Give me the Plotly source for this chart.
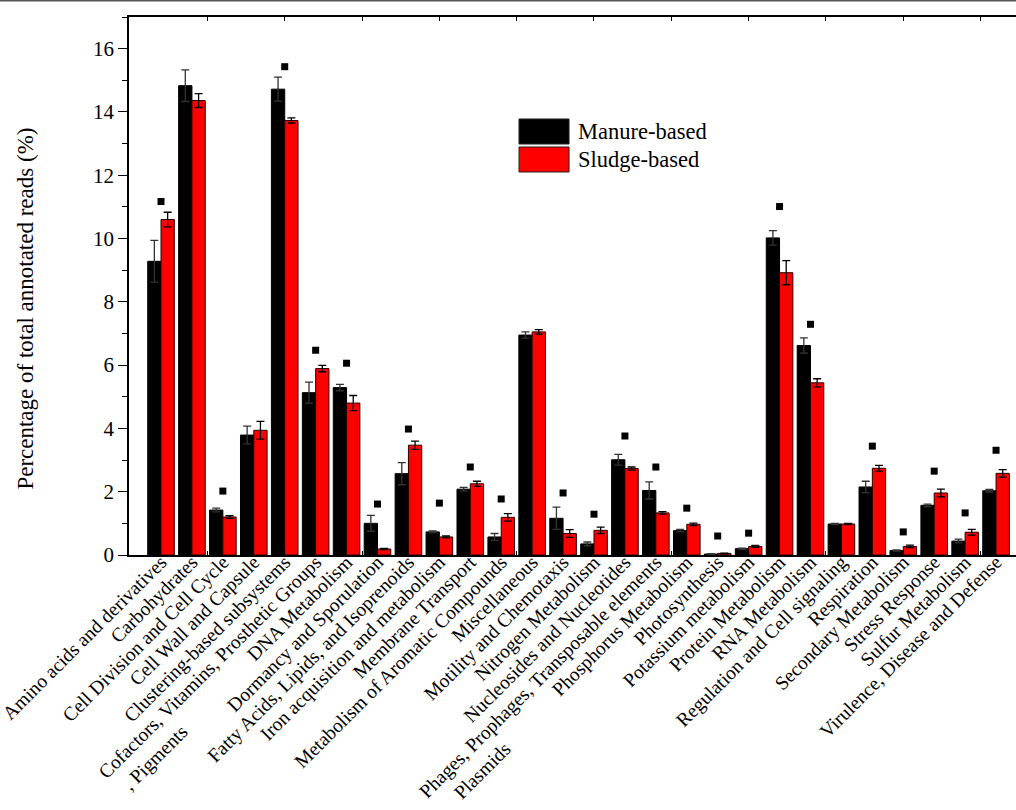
import plotly.graph_objects as go

# SEED subsystem level-1 categories
categories = [
    "Amino acids and derivatives", "Carbohydrates", "Cell Division and Cell Cycle",
    "Cell Wall and Capsule", "Clustering-based subsystems",
    "Cofactors, Vitamins, Prosthetic Groups<br>, Pigments",
    "DNA Metabolism", "Dormancy and Sporulation", "Fatty Acids, Lipids, and Isoprenoids",
    "Iron acquisition and metabolism", "Membrane Transport",
    "Metabolism of Aromatic Compounds", "Miscellaneous", "Motility and Chemotaxis",
    "Nitrogen Metabolism", "Nucleosides and Nucleotides",
    "Phages, Prophages, Transposable elements<br>Plasmids",
    "Phosphorus Metabolism", "Photosynthesis", "Potassium metabolism",
    "Protein Metabolism", "RNA Metabolism", "Regulation and Cell signaling",
    "Respiration", "Secondary Metabolism", "Stress Response", "Sulfur Metabolism",
    "Virulence, Disease and Defense",
]

manure = [9.28, 14.83, 1.42, 3.79, 14.72, 5.13, 5.29, 1.00, 2.57, 0.73, 2.08, 0.57, 6.95, 1.16,
          0.35, 3.01, 2.04, 0.77, 0.03, 0.20, 10.02, 6.62, 0.98, 2.15, 0.14, 1.57, 0.44, 2.03]
manure_sd = [0.66, 0.50, 0.06, 0.28, 0.38, 0.33, 0.10, 0.25, 0.35, 0.03, 0.06, 0.11, 0.10, 0.35,
             0.06, 0.17, 0.27, 0.04, 0.01, 0.02, 0.23, 0.24, 0.02, 0.18, 0.02, 0.04, 0.06, 0.04]
sludge = [10.60, 14.36, 1.20, 3.94, 13.73, 5.89, 4.80, 0.19, 3.47, 0.57, 2.25, 1.19, 7.05, 0.68,
          0.78, 2.73, 1.33, 0.97, 0.05, 0.27, 8.92, 5.44, 0.98, 2.74, 0.27, 1.96, 0.72, 2.58]
sludge_sd = [0.23, 0.22, 0.04, 0.28, 0.08, 0.10, 0.24, 0.02, 0.13, 0.03, 0.08, 0.12, 0.07, 0.12,
             0.10, 0.05, 0.04, 0.04, 0.01, 0.03, 0.38, 0.13, 0.02, 0.09, 0.04, 0.12, 0.09, 0.12]
# significance marks (None = no significant difference)
sig_y = [11.17, None, 2.02, None, 15.43, 6.47, 6.06, 1.61, 3.98, 1.64, 2.78, 1.77, None, 1.96,
         1.29, 3.76, 2.78, 1.48, 0.60, 0.69, 11.01, 7.29, None, 3.44, 0.73, 2.65, 1.33, 3.31]

y_ticks = [0, 2, 4, 6, 8, 10, 12, 14, 16]

FONT = "Liberation Serif, Times New Roman, serif"
NBSP = "\u00a0"

idx = list(range(len(categories)))
# left-align the second line of two-line labels
tick_text = []
for c in categories:
    if c.startswith("Cofactors"):
        c = c + NBSP * 44
    elif c.startswith("Phages"):
        c = c + NBSP * 49
    tick_text.append(c)

x_range = [-1.035, 27.645]

fig = go.Figure()
fig.add_trace(go.Bar(
    x=idx, y=manure, name="Manure-based",
    marker=dict(color="#000000", line=dict(color="#000000", width=1)),
    error_y=dict(type="data", array=manure_sd, color="#333333", thickness=1.3, width=4),
    showlegend=False,
))
fig.add_trace(go.Bar(
    x=idx, y=sludge, name="Sludge-based",
    marker=dict(color="#FF0000", line=dict(color="#2a0000", width=1)),
    error_y=dict(type="data", array=sludge_sd, color="#000000", thickness=1.3, width=4),
    showlegend=False,
))
sx = [i for i, v in zip(idx, sig_y) if v is not None]
sy = [v for v in sig_y if v is not None]
fig.add_trace(go.Scatter(
    x=sx, y=sy, mode="markers", xaxis="x2",
    marker=dict(symbol="square", size=7, color="#000000"),
    showlegend=False, hoverinfo="skip",
))

fig.update_layout(
    width=1016, height=810,
    margin=dict(l=129, r=0, t=17, b=255),
    paper_bgcolor="white", plot_bgcolor="white",
    barmode="group", bargap=0.14, bargroupgap=0.0,
    font=dict(family=FONT, color="#000000"),
    xaxis=dict(
        range=x_range, tickmode="array", tickvals=idx, ticktext=tick_text,
        tickangle=-45, ticks="", showline=False, showgrid=False, zeroline=False,
        automargin=False, ticklabeloverflow="allow", ticklabelstandoff=-9,
        tickfont=dict(family=FONT, size=19.5, color="#000000"),
    ),
    xaxis2=dict(
        overlaying="x", matches="x", range=x_range, side="bottom",
        tickmode="array", tickvals=[1.5 + 2.5 * k for k in range(11)],
        ticks="inside", ticklen=4, tickwidth=1, tickcolor="#000000",
        showticklabels=False, showline=True, linecolor="#000000", linewidth=1.5,
        mirror="ticks", showgrid=False, zeroline=False, automargin=False,
    ),
    yaxis=dict(
        range=[0, 17], tickmode="array", tickvals=y_ticks,
        ticks="outside", ticklen=9, tickwidth=1.3, tickcolor="#000000",
        minor=dict(dtick=1, ticks="outside", ticklen=5, tickwidth=1.3, tickcolor="#000000"),
        showline=True, linecolor="#000000", linewidth=1.5,
        showgrid=False, zeroline=False, automargin=False,
        tickfont=dict(family=FONT, size=21, color="#000000"),
    ),
)

# axis title
fig.add_annotation(
    xref="paper", yref="paper", x=-0.1161, y=0.458, xanchor="center", yanchor="middle",
    text="Percentage of total annotated reads (%)", textangle=-90, showarrow=False,
    font=dict(family=FONT, size=23, color="#000000"),
)

# legend
legend_items = [("Manure-based", "#000000", 0.8104, 0.7639, 0.7872),
                ("Sludge-based", "#FF0000", 0.7584, 0.7119, 0.7351)]
for label, color, y1, y0, ty in legend_items:
    fig.add_shape(type="rect", xref="paper", yref="paper", x0=0.4397, x1=0.4961, y0=y0, y1=y1,
                  fillcolor=color, line=dict(color="#222222", width=1))
    fig.add_annotation(xref="paper", yref="paper", x=0.5039, y=ty, xanchor="left",
                       yanchor="middle", text=label, showarrow=False,
                       font=dict(family=FONT, size=22.5, color="#000000"))

# thin rule across the top of the page
fig.add_shape(type="line", xref="paper", yref="paper", x0=-0.2, x1=1.0, y0=1.0307, y1=1.0307,
              line=dict(color="#555555", width=2))

fig.write_html("out.html")
